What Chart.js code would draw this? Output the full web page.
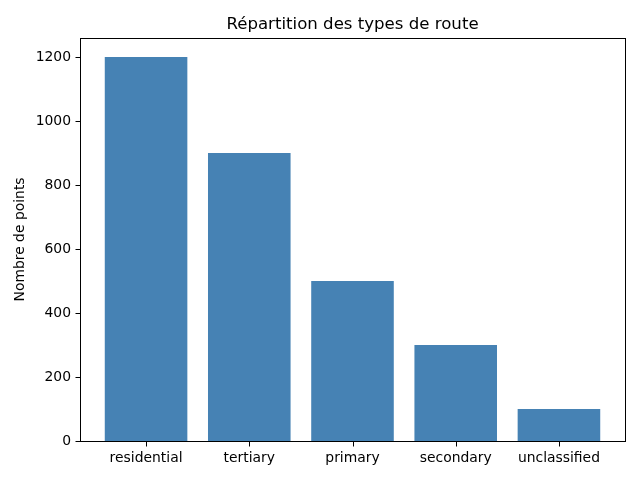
<!DOCTYPE html>
<html>
<head>
<meta charset="utf-8">
<script src="https://cdn.jsdelivr.net/npm/chart.js@4.4.0/dist/chart.umd.min.js"></script>
<style>
  html, body { margin: 0; padding: 0; background: #fff; }
  #wrap { width: 640px; height: 480px; }
</style>
</head>
<body>
<div id="wrap"><canvas id="myChart" width="640" height="480"></canvas></div>
<script>
// data
const roadTypes = ["residential", "tertiary", "primary", "secondary", "unclassified"];
const pointCounts = [1200, 900, 500, 300, 100];
const yTicks = [0, 200, 400, 600, 800, 1000, 1200];

const barData = [];
for (let i = 0; i < roadTypes.length; i++) {
  barData.push({ x: i, y: pointCounts[i] });
}

// matplotlib-like frame and outward tick marks
const framePlugin = {
  id: "frame",
  afterDraw(chart) {
    const a = chart.chartArea;
    const ctx = chart.ctx;
    const xs = chart.scales.x;
    const ys = chart.scales.y;
    ctx.save();
    ctx.strokeStyle = "#000";
    ctx.lineWidth = 1;
    ctx.strokeRect(Math.round(a.left) + 0.5, Math.round(a.top) + 0.5,
      Math.round(a.right - a.left), Math.round(a.bottom - a.top));
    ctx.beginPath();
    xs.ticks.forEach(t => {
      const px = Math.round(xs.getPixelForValue(t.value)) + 0.5;
      ctx.moveTo(px, Math.round(a.bottom) + 0.5);
      ctx.lineTo(px, Math.round(a.bottom) + 5.5);
    });
    ys.ticks.forEach(t => {
      const py = Math.round(ys.getPixelForValue(t.value)) + 0.5;
      ctx.moveTo(Math.round(a.left) + 0.5, py);
      ctx.lineTo(Math.round(a.left) - 4.5, py);
    });
    ctx.stroke();
    ctx.restore();
  }
};

Chart.defaults.font.family = "'DejaVu Sans', sans-serif";
Chart.defaults.color = "#000";

const config = {
  type: "bar",
  data: {
    datasets: [{
      data: barData,
      backgroundColor: "#4682B4",
      borderWidth: 0,
      inflateAmount: 0,
      categoryPercentage: 0.8,
      barPercentage: 1.0
    }]
  },
  options: {
    responsive: false,
    animation: false,
    layout: { padding: { left: 0, right: 15, top: 0, bottom: 0 } },
    plugins: {
      legend: { display: false },
      tooltip: { enabled: false },
      title: {
        display: true,
        fullSize: false,
        text: "Répartition des types de route",
        font: { size: 16.6, weight: "normal" },
        padding: { top: 15, bottom: 3 }
      }
    },
    scales: {
      x: {
        type: "linear",
        min: -0.64,
        max: 4.64,
        offset: false,
        afterBuildTicks(scale) {
          scale.ticks = roadTypes.map((_, i) => ({ value: i }));
        },
        afterFit(scale) { scale.height = 39; },
        ticks: {
          font: { size: 13.9 },
          padding: 9,
          maxRotation: 0,
          callback: (v) => roadTypes[v]
        },
        grid: { display: false, drawTicks: false },
        border: { display: false }
      },
      y: {
        min: 0,
        max: 1260,
        afterBuildTicks(scale) {
          scale.ticks = yTicks.map(v => ({ value: v }));
        },
        afterFit(scale) { scale.width = 80; },
        ticks: { font: { size: 13.9 }, padding: 9, callback: (v) => String(v) },
        grid: { display: false, drawTicks: false },
        border: { display: false },
        title: {
          display: true,
          text: "Nombre de points",
          font: { size: 13.9 },
          padding: { top: 12, bottom: 0 }
        }
      }
    }
  },
  plugins: [framePlugin]
};

const myChart = new Chart(document.getElementById("myChart"), config);
</script>
</body>
</html>
